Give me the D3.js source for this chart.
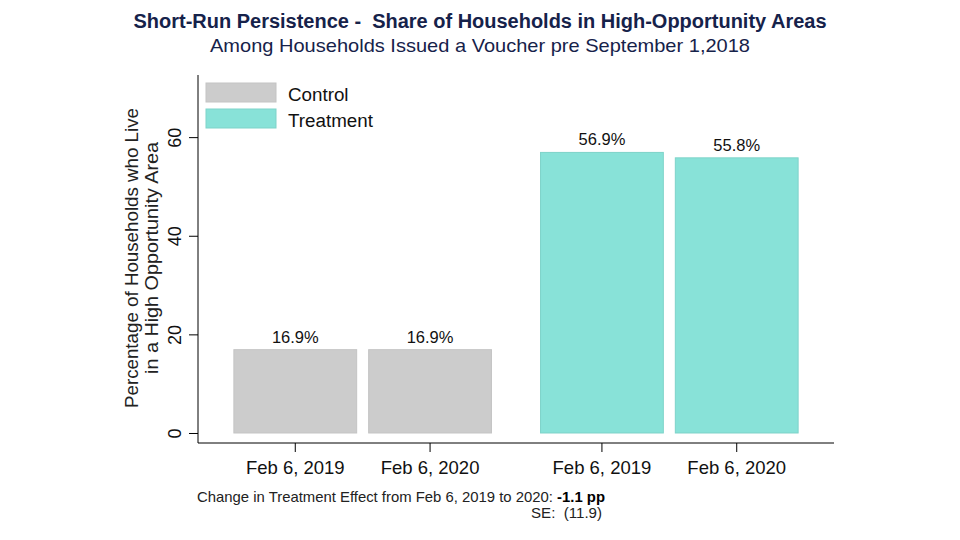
<!DOCTYPE html>
<html><head><meta charset="utf-8">
<script src="https://cdn.jsdelivr.net/npm/d3@7"></script>
<style>body{margin:0;background:#fff;} svg{display:block;font-family:Arial,"Liberation Sans",sans-serif;} text{white-space:pre;}</style>
</head><body>
<svg id="c" width="960" height="540"></svg>
<script>
const groups = ["Control", "Treatment"];
const dates = ["Feb 6, 2019", "Feb 6, 2020"];
const controlValues = [16.9, 16.9];
const treatmentValues = [56.9, 55.8];
const valueLabels = [["16.9%", "16.9%"], ["56.9%", "55.8%"]];
const yTicks = [0, 20, 40, 60];
const colors = {Control: "#cccccc", Treatment: "#88e2d8"};
const strokes = {Control: "#c4c4c4", Treatment: "#7ed3c9"};

(function() {
const svg = d3.select("#c");
const mLeft = 198, mRight = 834, mTop = 75, mBottom = 443;

const y = d3.scaleLinear().domain([-2.03, 72.6]).range([mBottom, mTop]);
const x0 = d3.scaleBand().domain(groups).range([mLeft, mRight]).paddingInner(0.16).paddingOuter(0.117);
const x1 = d3.scaleBand().domain(dates).range([0, x0.bandwidth()]).paddingInner(0.089).paddingOuter(0);

const data = [];
groups.forEach((g, gi) => {
  const vals = gi === 0 ? controlValues : treatmentValues;
  dates.forEach((d, di) => data.push({group: g, date: d, value: vals[di], label: valueLabels[gi][di]}));
});

// Title
svg.append("text").attr("x", 480).attr("y", 28).attr("text-anchor", "middle")
  .attr("font-size", 19.5).attr("font-weight", "bold").attr("fill", "#16224a")
  .attr("textLength", 693).attr("lengthAdjust", "spacingAndGlyphs")
  .text("Short-Run Persistence -  Share of Households in High-Opportunity Areas");
svg.append("text").attr("x", 480).attr("y", 52).attr("text-anchor", "middle")
  .attr("font-size", 19).attr("fill", "#16224a")
  .attr("textLength", 540).attr("lengthAdjust", "spacingAndGlyphs")
  .text("Among Households Issued a Voucher pre September 1,2018");

// Bars
svg.append("g").selectAll("rect").data(data).join("rect")
  .attr("x", d => x0(d.group) + x1(d.date))
  .attr("width", x1.bandwidth())
  .attr("y", d => y(d.value))
  .attr("height", d => y(0) - y(d.value))
  .attr("fill", d => colors[d.group])
  .attr("stroke", d => strokes[d.group]).attr("stroke-width", 1);

// Value labels
svg.append("g").selectAll("text").data(data).join("text")
  .attr("x", d => x0(d.group) + x1(d.date) + x1.bandwidth() / 2)
  .attr("y", d => y(d.value) - 7)
  .attr("text-anchor", "middle").attr("font-size", 16.5).attr("fill", "#111")
  .text(d => d.label);

// Y axis
const yAxis = svg.append("g").attr("transform", `translate(${mLeft},0)`)
  .call(d3.axisLeft(y).tickValues(yTicks).tickSize(9).tickSizeOuter(0));
yAxis.select(".domain").attr("stroke", "#000").attr("d", `M0,${mTop}V${mBottom}`);
yAxis.selectAll(".tick line").attr("stroke", "#000");
yAxis.selectAll(".tick text").attr("font-size", 18).attr("fill", "#111")
  .attr("transform", "rotate(-90)").attr("text-anchor", "middle")
  .attr("x", 0).attr("y", -23).attr("dy", "0.32em");

// X axis
const xg = svg.append("g");
xg.append("line").attr("x1", mLeft).attr("x2", mRight).attr("y1", mBottom).attr("y2", mBottom).attr("stroke", "#000");
xg.selectAll("g.xt").data(data).join("g").attr("class", "xt")
  .attr("transform", d => `translate(${x0(d.group) + x1(d.date) + x1.bandwidth() / 2},${mBottom})`)
  .each(function(d) {
    const g = d3.select(this);
    g.append("line").attr("y1", 0).attr("y2", 9).attr("stroke", "#000");
    g.append("text").attr("y", 31).attr("text-anchor", "middle").attr("font-size", 18.5).attr("fill", "#111").text(d.date);
  });

// Y axis title
const yt = svg.append("text").attr("transform", `translate(0,258) rotate(-90)`)
  .attr("text-anchor", "middle").attr("font-size", 18).attr("fill", "#222");
yt.append("tspan").attr("x", 0).attr("y", 138).attr("textLength", 300).attr("lengthAdjust", "spacingAndGlyphs").text("Percentage of Households who Live");
yt.append("tspan").attr("x", 0).attr("y", 158).attr("textLength", 232).attr("lengthAdjust", "spacingAndGlyphs").text("in a High Opportunity Area");

// Legend
const leg = svg.append("g");
groups.forEach((g, i) => {
  leg.append("rect").attr("x", 206).attr("y", 83 + i * 26).attr("width", 70).attr("height", 19)
    .attr("fill", colors[g]).attr("stroke", strokes[g]);
  leg.append("text").attr("x", 288).attr("y", 101 + i * 26).attr("font-size", 18.8).attr("fill", "#111").text(g);
});

// Footnote
const fn = svg.append("text").attr("x", 197).attr("y", 502).attr("font-size", 14.5).attr("fill", "#222")
  .attr("textLength", 408).attr("lengthAdjust", "spacingAndGlyphs");
fn.append("tspan").text("Change in Treatment Effect from Feb 6, 2019 to 2020: ");
fn.append("tspan").attr("font-weight", "bold").attr("fill", "#000").text("-1.1 pp");
svg.append("text").attr("x", 602).attr("y", 518).attr("text-anchor", "end").attr("font-size", 14.5).attr("fill", "#222")
  .attr("textLength", 71).attr("lengthAdjust", "spacingAndGlyphs").text("SE:  (11.9)");
})();
</script>
</body></html>
